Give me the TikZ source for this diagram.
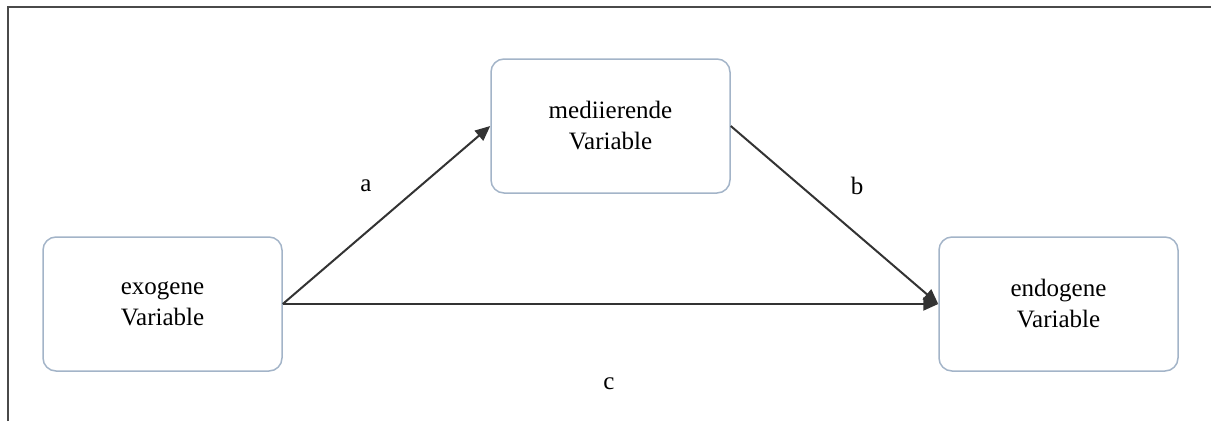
\documentclass[tikz,border=0pt]{standalone}
\usepackage{fontspec}
\setmainfont{Liberation Serif}
\usetikzlibrary{arrows.meta}
\definecolor{boxline}{HTML}{A3B4C8}
\definecolor{arrowc}{HTML}{333333}
\definecolor{framec}{HTML}{4A4A4A}
\begin{document}
\begin{tikzpicture}[x=1pt,y=-1pt,
  var/.style={draw=boxline, line width=1.5pt, rounded corners=13pt,
    minimum width=239pt, minimum height=134pt, inner sep=0pt,
    align=center, font=\fontsize{25}{31}\selectfont},
  link/.style={draw=arrowc, line width=2pt,
    -{Triangle[length=15pt,width=13pt]}},
  lbl/.style={font=\fontsize{25}{31}\selectfont, inner sep=0pt}]
\useasboundingbox (0,0) rectangle (1211,421);
% open frame: top and left rules only
\draw[line width=2pt, draw=framec] (8,421) -- (8,7) -- (1211,7);
% variables
\node[var] (exo)  at (162.5,304) {exogene\\Variable};
\node[var] (med)  at (610.5,126) {mediierende\\Variable};
\node[var] (endo) at (1058.5,304) {endogene\\Variable};
% paths
\draw[link] (exo.east) -- (med.west);
\draw[link] (med.east) -- (endo.west);
\draw[link] (exo.east) -- (endo.west);
% path labels
\node[lbl] (la) at (366,186) {a};
\node[lbl] (lb) at (857,186) {b};
\node[lbl] (lc) at (609,384) {c};
\end{tikzpicture}
\end{document}
